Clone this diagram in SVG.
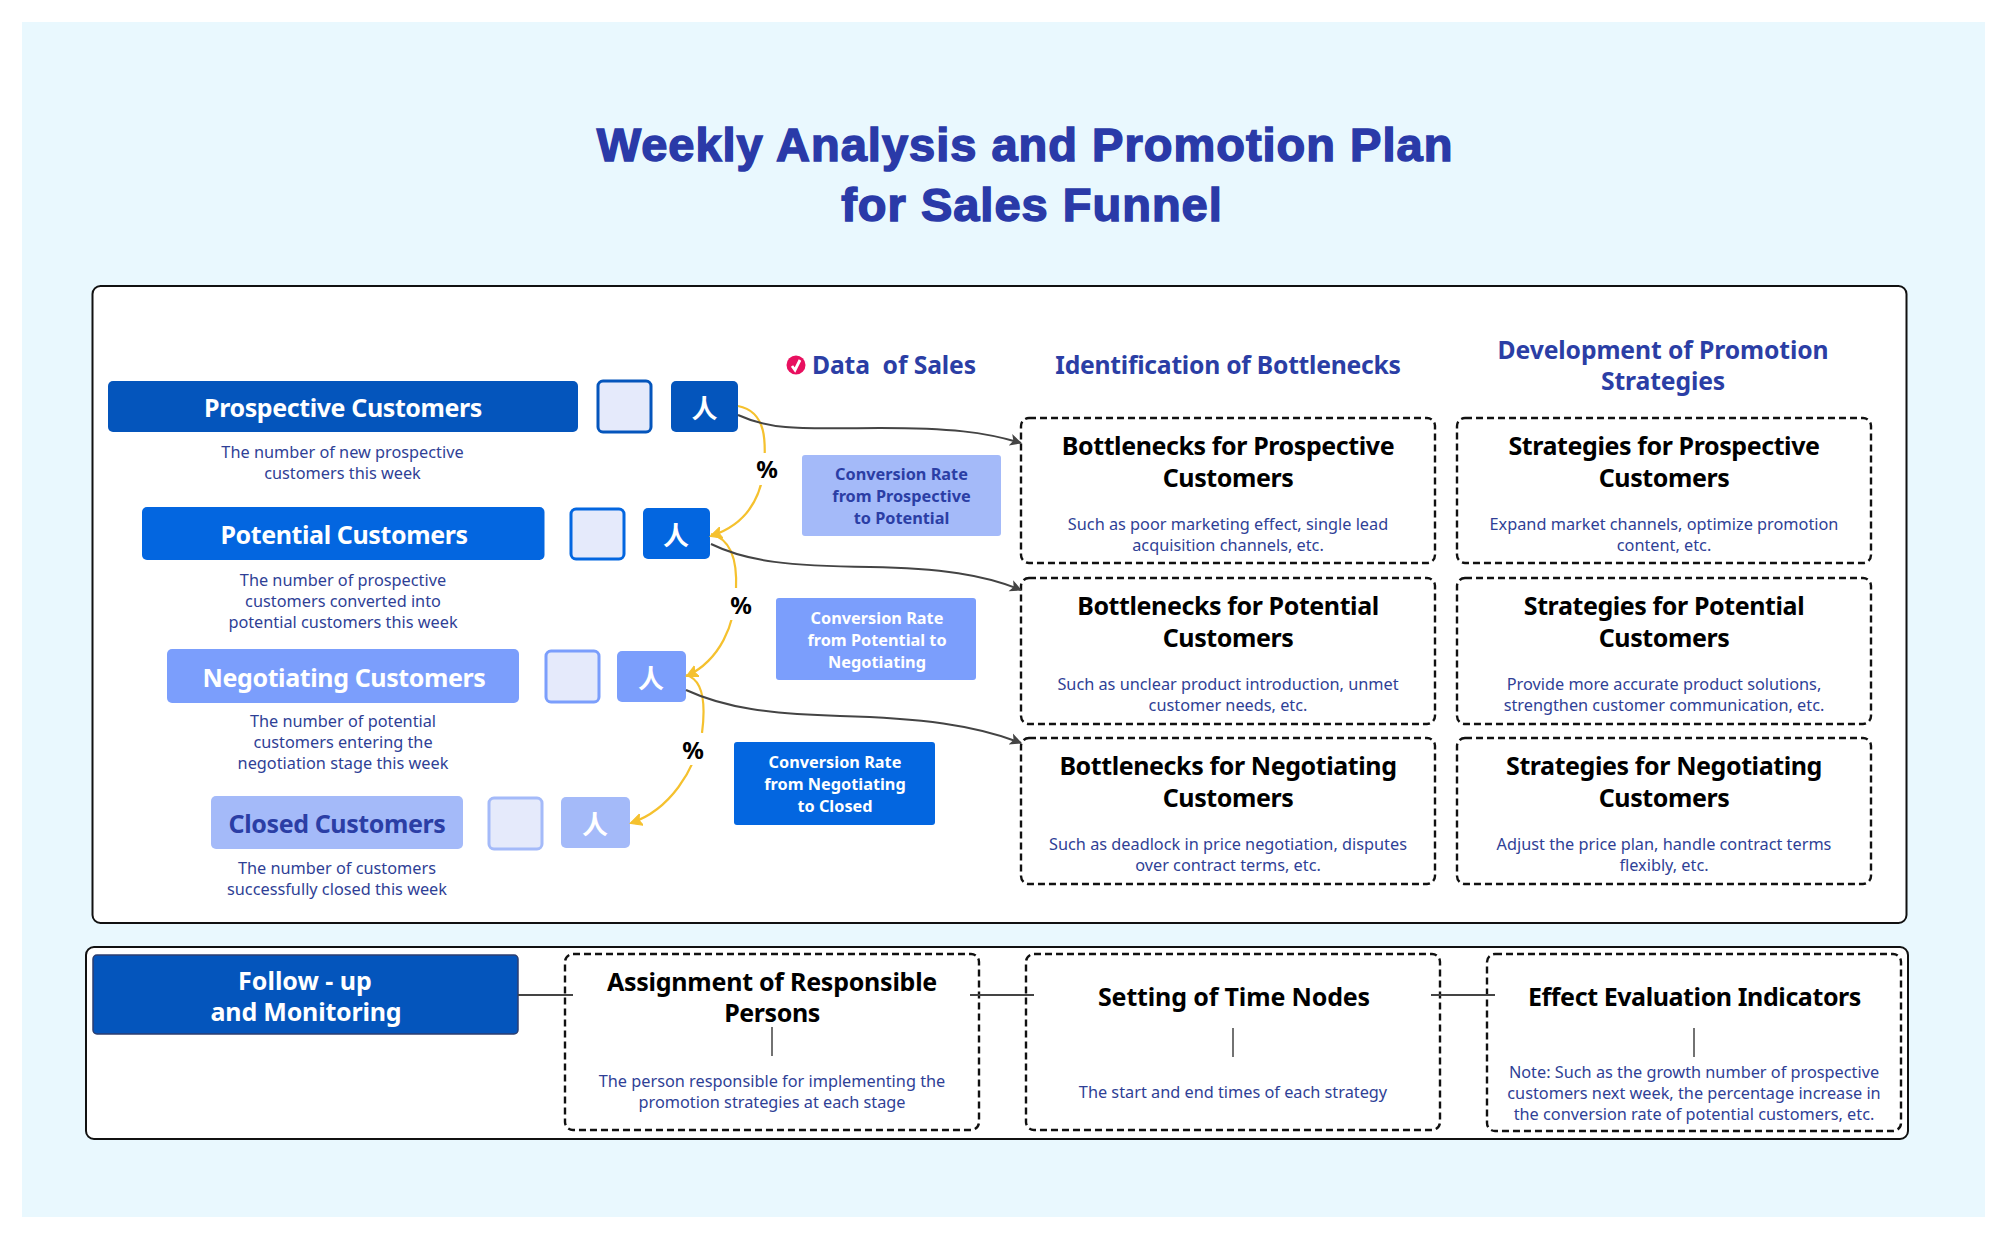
<svg xmlns="http://www.w3.org/2000/svg" width="2005" height="1239" viewBox="0 0 2005 1239">
<style>
text{font-family:"Noto Sans","Liberation Sans",sans-serif;text-anchor:middle}
.title{font-family:"Liberation Sans",Arial,sans-serif;font-weight:700;font-size:47px;letter-spacing:1px;fill:#2a3aa8;stroke:#2a3aa8;stroke-width:1.5px}
.head{font-weight:700;font-size:24.7px;letter-spacing:-.1px;fill:#2b3ea5}
.stage{font-weight:700;font-size:25px;letter-spacing:-.4px;fill:#fff}
.sub{font-size:16.3px;fill:#2f3f96}
.conv{font-weight:700;font-size:16.300px}
.bt{font-weight:700;font-size:25px;letter-spacing:-.41px;fill:#000}
.pct{font-weight:700;font-size:24px;fill:#000}
.icon{font-family:"Noto Sans CJK SC",sans-serif;font-size:26px;fill:#fff;font-weight:700}
.panel{fill:#fff;stroke:#111;stroke-width:2}
.dash{fill:#fff;stroke:#111;stroke-width:2.4;stroke-dasharray:7 4}
.sq{stroke-width:3;fill:#e5eafb}
.gold{fill:none;stroke:#f5c12e;stroke-width:2.2;marker-end:url(#ag)}
.grey{fill:none;stroke:#444;stroke-width:2;marker-end:url(#ad)}
.ln{stroke:#444;stroke-width:2;fill:none}
</style>
<defs>
<marker id="ag" markerUnits="userSpaceOnUse" markerWidth="14" markerHeight="14" refX="11" refY="7" orient="auto"><path d="M0,1 L12,7 L0,13 L2.500,7 Z" fill="#f5c12e" stroke="#f5c12e" stroke-width="1"/></marker>
<marker id="ad" markerUnits="userSpaceOnUse" markerWidth="14" markerHeight="14" refX="11" refY="7" orient="auto"><path d="M0,1 L12,7 L0,13 L3,7 Z" fill="#444"/></marker>
</defs>
<rect width="2005" height="1239" fill="#fff"/>
<rect x="22" y="22" width="1963" height="1195" fill="#e9f8fe"/>
<g id="title"><text class="title" x="1025" y="161">Weekly Analysis and Promotion Plan</text><text class="title" x="1032" y="221">for Sales Funnel</text></g>
<rect id="main-panel" class="panel" x="92.500" y="286" width="1814" height="637" rx="8"/>
<rect id="bottom-panel" class="panel" x="86" y="947" width="1822" height="192" rx="8"/>
<g id="headers">
<circle cx="796" cy="365" r="9.500" fill="#e8105f"/><path d="M792,366 L795,370 L800,360" fill="none" stroke="#fff" stroke-width="2.800"/>
<text class="head" x="894" y="374" style="white-space:pre">Data  of Sales</text>
<text class="head" x="1228" y="374" style="letter-spacing:-.25px">Identification of Bottlenecks</text>
<text class="head" x="1663" y="359">Development of Promotion</text><text class="head" x="1663" y="390">Strategies</text>
</g>
<g id="prospective">
<rect x="108" y="381" width="470" height="51" rx="5" fill="#0455bc"/><text class="stage" x="343" y="417">Prospective Customers</text>
<rect class="sq" x="598" y="381" width="53" height="51" rx="5" stroke="#0455bc"/>
<rect x="671" y="381" width="67" height="51" rx="5" fill="#0455bc"/><text class="icon" x="704.500" y="418">人</text>
<text class="sub" x="342.500" y="458">The number of new prospective</text><text class="sub" x="342.500" y="479">customers this week</text>
</g>
<g id="potential">
<rect x="142" y="507" width="402.500" height="53" rx="5" fill="#0366e0"/><text class="stage" x="344" y="544">Potential Customers</text>
<rect class="sq" x="571" y="509" width="53" height="50" rx="5" stroke="#0366e0"/>
<rect x="643" y="508" width="67" height="51" rx="5" fill="#0366e0"/><text class="icon" x="676" y="545">人</text>
<text class="sub" x="343" y="586">The number of prospective</text><text class="sub" x="343" y="607">customers converted into</text><text class="sub" x="343" y="628">potential customers this week</text>
</g>
<g id="negotiating">
<rect x="167" y="649" width="352" height="54" rx="5" fill="#7b9efc"/><text class="stage" x="344" y="687">Negotiating Customers</text>
<rect class="sq" x="546" y="651" width="53" height="51" rx="5" stroke="#7b9efc"/>
<rect x="617" y="651" width="69" height="51" rx="5" fill="#7b9efc"/><text class="icon" x="651" y="688">人</text>
<text class="sub" x="343" y="727">The number of potential</text><text class="sub" x="343" y="748">customers entering the</text><text class="sub" x="343" y="769">negotiation stage this week</text>
</g>
<g id="closed">
<rect x="211" y="796" width="252" height="53" rx="5" fill="#a4baf9"/><text class="stage" x="337" y="833" style="fill:#2b3ea5">Closed Customers</text>
<rect class="sq" x="489" y="798" width="53" height="51" rx="5" stroke="#a4baf9"/>
<rect x="561" y="797" width="69" height="51" rx="5" fill="#a4baf9"/><text class="icon" x="595" y="834">人</text>
<text class="sub" x="337" y="874">The number of customers</text><text class="sub" x="337" y="895">successfully closed this week</text>
</g>
<g id="conv1"><rect x="802" y="455" width="199" height="81" rx="3" fill="#a4baf9"/><g class="conv" fill="#2b3ea5"><text x="901.500" y="480">Conversion Rate</text><text x="901.500" y="502">from Prospective</text><text x="901.500" y="524">to Potential</text></g></g>
<g id="conv2"><rect x="776" y="598" width="200" height="82" rx="3" fill="#7b9efc"/><g class="conv" fill="#fff"><text x="877" y="624">Conversion Rate</text><text x="877" y="646">from Potential to</text><text x="877" y="668">Negotiating</text></g></g>
<g id="conv3"><rect x="734" y="742" width="201" height="83" rx="3" fill="#0366e0"/><g class="conv" fill="#fff"><text x="835" y="768">Conversion Rate</text><text x="835" y="790">from Negotiating</text><text x="835" y="812">to Closed</text></g></g>
<g id="bottleneck1"><rect class="dash" x="1021" y="418" width="414" height="145" rx="8"/><text class="bt" x="1228" y="455">Bottlenecks for Prospective</text><text class="bt" x="1228" y="487">Customers</text><text class="sub" x="1228" y="530">Such as poor marketing effect, single lead</text><text class="sub" x="1228" y="551">acquisition channels, etc.</text></g>
<g id="bottleneck2"><rect class="dash" x="1021" y="578" width="414" height="146" rx="8"/><text class="bt" x="1228" y="615">Bottlenecks for Potential</text><text class="bt" x="1228" y="647">Customers</text><text class="sub" x="1228" y="690">Such as unclear product introduction, unmet</text><text class="sub" x="1228" y="711">customer needs, etc.</text></g>
<g id="bottleneck3"><rect class="dash" x="1021" y="738" width="414" height="146" rx="8"/><text class="bt" x="1228" y="775">Bottlenecks for Negotiating</text><text class="bt" x="1228" y="807">Customers</text><text class="sub" x="1228" y="850">Such as deadlock in price negotiation, disputes</text><text class="sub" x="1228" y="871">over contract terms, etc.</text></g>
<g id="strategy1"><rect class="dash" x="1457" y="418" width="414" height="145" rx="8"/><text class="bt" x="1664" y="455">Strategies for Prospective</text><text class="bt" x="1664" y="487">Customers</text><text class="sub" x="1664" y="530">Expand market channels, optimize promotion</text><text class="sub" x="1664" y="551">content, etc.</text></g>
<g id="strategy2"><rect class="dash" x="1457" y="578" width="414" height="146" rx="8"/><text class="bt" x="1664" y="615">Strategies for Potential</text><text class="bt" x="1664" y="647">Customers</text><text class="sub" x="1664" y="690">Provide more accurate product solutions,</text><text class="sub" x="1664" y="711">strengthen customer communication, etc.</text></g>
<g id="strategy3"><rect class="dash" x="1457" y="738" width="414" height="146" rx="8"/><text class="bt" x="1664" y="775">Strategies for Negotiating</text><text class="bt" x="1664" y="807">Customers</text><text class="sub" x="1664" y="850">Adjust the price plan, handle contract terms</text><text class="sub" x="1664" y="871">flexibly, etc.</text></g>
<g id="follow-up"><rect x="93" y="955" width="425" height="79" rx="4" fill="#0455bc" stroke="#2c3e70" stroke-width="1.500"/><text class="stage" x="305" y="990" style="letter-spacing:0">Follow - up</text><text class="stage" x="306" y="1021" style="letter-spacing:-.2px">and Monitoring</text></g>
<g id="assignment"><rect class="dash" x="565" y="954" width="414" height="176" rx="8"/><text class="bt" x="772" y="991" style="letter-spacing:-.25px">Assignment of Responsible</text><text class="bt" x="772" y="1022">Persons</text><text class="sub" x="772" y="1087">The person responsible for implementing the</text><text class="sub" x="772" y="1108">promotion strategies at each stage</text></g>
<g id="time"><rect class="dash" x="1026" y="954" width="414" height="176" rx="8"/><text class="bt" x="1234" y="1006" style="letter-spacing:-.15px">Setting of Time Nodes</text><text class="sub" x="1233" y="1098">The start and end times of each strategy</text></g>
<g id="effect"><rect class="dash" x="1487" y="954" width="414" height="177" rx="8"/><text class="bt" x="1694.500" y="1006">Effect Evaluation Indicators</text><text class="sub" x="1694" y="1078">Note: Such as the growth number of prospective</text><text class="sub" x="1694" y="1099">customers next week, the percentage increase in</text><text class="sub" x="1694" y="1120">the conversion rate of potential customers, etc.</text></g>
<g id="connectors">
<path class="gold" d="M738,406 C770,412 765,450 764,470 C760,500 745,525 711,536"/>
<path class="gold" d="M711,534 C735,540 737,570 736,590 C735,625 720,660 687,676"/>
<path class="gold" d="M686,675 C705,680 705,710 702,733 C695,770 670,810 631,823"/>
<path class="grey" d="M738,415 C775,432 810,428 880,428 C950,428 985,432 1021,443"/>
<path class="grey" d="M711,544 C748,562 790,566 870,567 C940,568 985,575 1021,590"/>
<path class="grey" d="M686,690 C725,708 770,714 840,716 C920,718 975,725 1021,743"/>
<path class="ln" d="M518,995 H573 M970,995 H1034 M1431,995 H1495"/>
<path class="ln" style="stroke-width:1.500" d="M772,1027 V1056 M1233,1028 V1057 M1694,1028 V1057"/>
</g>
<g id="pct1"><rect x="755" y="453" width="24" height="32" fill="#fff"/><text class="pct" x="767" y="478">%</text></g>
<g id="pct2"><rect x="729" y="588" width="24" height="32" fill="#fff"/><text class="pct" x="741" y="614">%</text></g>
<g id="pct3"><rect x="681" y="733" width="24" height="32" fill="#fff"/><text class="pct" x="693" y="759">%</text></g>
</svg>
